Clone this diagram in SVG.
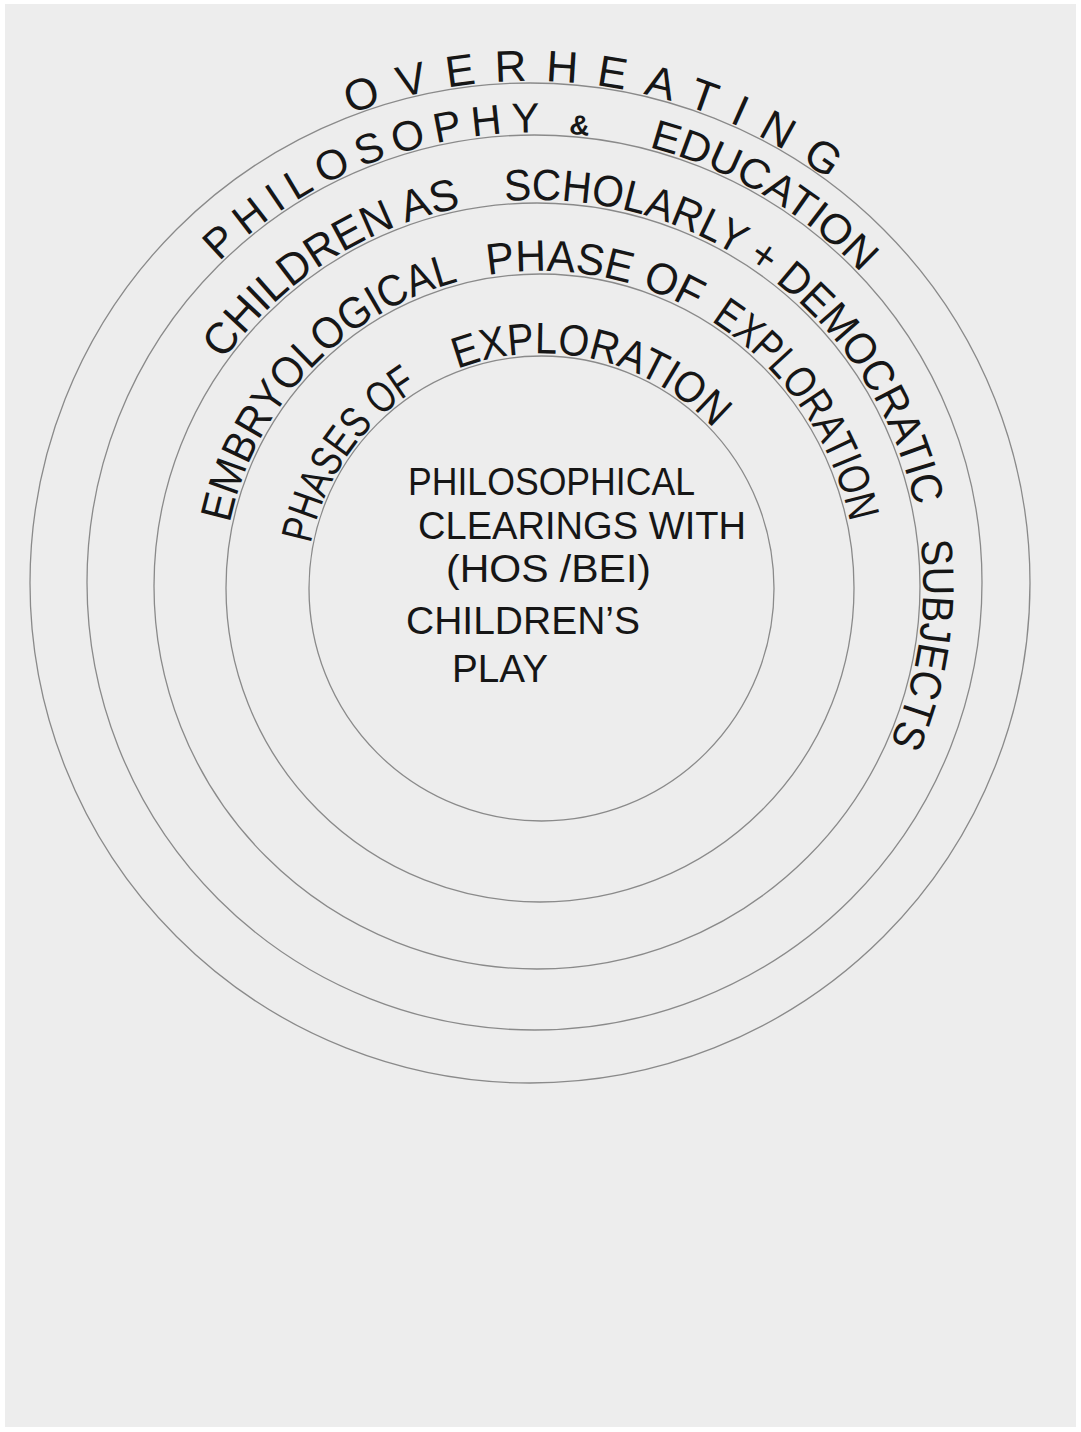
<svg xmlns="http://www.w3.org/2000/svg" width="1081" height="1432" viewBox="0 0 1081 1432">
  <style>
    .ring { fill: none; stroke: #8a8a8a; stroke-width: 1.3; }
    .arc { fill: none; stroke: none; }
    .lbl { font-family: "Liberation Sans", "DejaVu Sans", sans-serif; fill: #161616; font-size: 44px; }
    .mid { font-size: 42px; }
    .core { font-size: 38px; }
    .small { font-size: 28px; font-weight: bold; }
  </style>
  <defs>
    <path id="p1" class="arc" d="M530 1085 A502 502 0 1 1 530 81 A502 502 0 1 1 530 1085"/>
    <path id="p2" class="arc" d="M534.5 1032.5 A450 450 0 1 1 534.5 132.5 A450 450 0 1 1 534.5 1032.5"/>
    <path id="p3" class="arc" d="M537 972 A386 386 0 1 1 537 200 A386 386 0 1 1 537 972"/>
    <path id="p4" class="arc" d="M540 905 A317 317 0 1 1 540 271 A317 317 0 1 1 540 905"/>
    <path id="p5" class="arc" d="M541.5 823.5 A235 235 0 1 1 541.5 353.5 A235 235 0 1 1 541.5 823.5"/>
  </defs>
  <rect x="0" y="0" width="1081" height="1432" fill="#ffffff"/>
  <rect x="5" y="4" width="1071" height="1423" fill="#ededed"/>

  <g id="ring-overheating">
    <circle class="ring" cx="530" cy="583" r="500"/>
    <text class="lbl"><textPath href="#p1" startOffset="1393" textLength="504" lengthAdjust="spacing">OVERHEATING</textPath></text>
  </g>
  <g id="ring-philosophy-education">
    <circle class="ring" cx="534.5" cy="582.5" r="447.5"/>
    <text class="lbl mid"><textPath href="#p2" startOffset="1064" textLength="404" lengthAdjust="spacing">PHILOSOPHY <tspan class="small">&amp;</tspan></textPath></text>
    <text class="lbl mid"><textPath href="#p2" startOffset="1529" textLength="250" lengthAdjust="spacingAndGlyphs">EDUCATION</textPath></text>
  </g>
  <g id="ring-children-subjects">
    <circle class="ring" cx="537" cy="586" r="383"/>
    <text class="lbl"><textPath href="#p3" startOffset="847" textLength="289" lengthAdjust="spacingAndGlyphs">CHILDREN AS</textPath></text>
    <text class="lbl"><textPath href="#p3" startOffset="1180" textLength="558" lengthAdjust="spacingAndGlyphs">SCHOLARLY + DEMOCRATIC</textPath></text>
    <text class="lbl"><textPath href="#p3" startOffset="1773" textLength="207" lengthAdjust="spacingAndGlyphs">SUBJECTS</textPath></text>
  </g>
  <g id="ring-embryological">
    <circle class="ring" cx="540" cy="588" r="314"/>
    <text class="lbl"><textPath href="#p4" startOffset="563" textLength="350" lengthAdjust="spacingAndGlyphs">EMBRYOLOGICAL</textPath></text>
    <text class="lbl"><textPath href="#p4" startOffset="943" textLength="214" lengthAdjust="spacingAndGlyphs">PHASE OF</textPath></text>
    <text class="lbl"><textPath href="#p4" startOffset="1176" textLength="251" lengthAdjust="spacingAndGlyphs">EXPLORATION</textPath></text>
  </g>
  <g id="ring-phases">
    <circle class="ring" cx="541.5" cy="588.5" r="232.5"/>
    <text class="lbl"><textPath href="#p5" startOffset="414" textLength="194" lengthAdjust="spacingAndGlyphs">PHASES OF</textPath></text>
    <text class="lbl"><textPath href="#p5" startOffset="652" textLength="279" lengthAdjust="spacingAndGlyphs">EXPLORATION</textPath></text>
  </g>
  <g id="core">
    <text class="lbl core" x="408" y="495" textLength="287" lengthAdjust="spacingAndGlyphs">PHILOSOPHICAL</text>
    <text class="lbl core" x="418" y="539" textLength="328" lengthAdjust="spacingAndGlyphs">CLEARINGS WITH</text>
    <text class="lbl core" x="446" y="582" textLength="205" lengthAdjust="spacingAndGlyphs">(HOS /BEI)</text>
    <text class="lbl core" x="406" y="634" textLength="234" lengthAdjust="spacingAndGlyphs">CHILDREN’S</text>
    <text class="lbl core" x="452" y="682" textLength="96" lengthAdjust="spacingAndGlyphs">PLAY</text>
  </g>
  <g id="connectors"/>
</svg>
